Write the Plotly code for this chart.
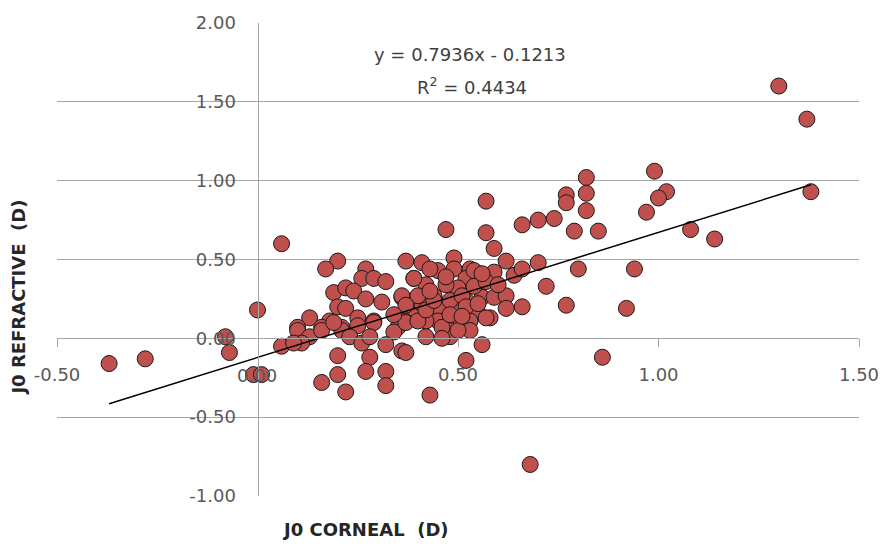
import plotly.graph_objects as go

j0_corneal = [
    1.30, 1.37, 1.38, -0.37, -0.28, -0.08, -0.07, 0.00, -0.01, 0.01,
    0.06, 0.68, 0.86, 0.92, 0.94, 0.77, 0.72, 0.66, 0.56, 0.52,
    0.43, 0.99, 1.02, 1.00, 0.97, 1.08, 1.14, 0.82, 0.82, 0.77,
    0.77, 0.82, 0.79, 0.85, 0.74, 0.70, 0.66, 0.57, 0.57, 0.47,
    0.59, 0.62, 0.70, 0.80, 0.49, 0.59, 0.64, 0.66, 0.53, 0.49,
    0.45, 0.52, 0.50, 0.47, 0.52, 0.56, 0.59, 0.62, 0.62, 0.58,
    0.55, 0.53, 0.49, 0.47, 0.46, 0.49, 0.54, 0.47, 0.57, 0.53,
    0.47, 0.48, 0.20, 0.17, 0.37, 0.41, 0.43, 0.27, 0.26, 0.29,
    0.32, 0.39, 0.42, 0.19, 0.22, 0.24, 0.27, 0.36, 0.40, 0.44,
    0.20, 0.22, 0.25, 0.29, 0.13, 0.18, 0.10, 0.16, 0.21, 0.37,
    0.39, 0.41, 0.45, 0.45, 0.35, 0.42, 0.46, 0.10, 0.13, 0.16,
    0.21, 0.25, 0.29, 0.34, 0.37, 0.42, 0.46, 0.11, 0.23, 0.26,
    0.28, 0.32, 0.20, 0.28, 0.36, 0.37, 0.20, 0.16, 0.27, 0.32,
    0.32, 0.22, 0.06, 0.09, 0.19, 0.36, 0.40, 0.39, 0.40, 0.42,
    0.37, 0.48, 0.51, 0.54, 0.57, 0.48, 0.44, 0.52, 0.55, 0.50,
    0.34, 0.31, 0.43, 0.56, 0.60, 0.51,
]
j0_refractive = [
    1.60, 1.39, 0.93, -0.16, -0.13, 0.01, -0.09, 0.18, -0.23, -0.23,
    0.60, -0.80, -0.12, 0.19, 0.44, 0.21, 0.33, 0.20, -0.04, -0.14,
    -0.36, 1.06, 0.93, 0.89, 0.80, 0.69, 0.63, 1.02, 0.92, 0.91,
    0.86, 0.81, 0.68, 0.68, 0.76, 0.75, 0.72, 0.87, 0.67, 0.69,
    0.57, 0.49, 0.48, 0.44, 0.51, 0.42, 0.40, 0.44, 0.44, 0.44,
    0.43, 0.38, 0.32, 0.34, 0.24, 0.26, 0.26, 0.27, 0.19, 0.13,
    0.16, 0.11, 0.10, 0.08, 0.21, 0.19, 0.43, 0.39, 0.13, 0.05,
    0.06, 0.01, 0.49, 0.44, 0.49, 0.48, 0.44, 0.44, 0.38, 0.38,
    0.36, 0.38, 0.34, 0.29, 0.32, 0.30, 0.25, 0.26, 0.26, 0.27,
    0.20, 0.19, 0.13, 0.11, 0.13, 0.11, 0.07, 0.07, 0.07, 0.11,
    0.19, 0.22, 0.20, 0.11, 0.07, 0.11, 0.07, 0.05, 0.01, 0.05,
    0.05, 0.08, 0.10, 0.04, 0.10, 0.01, 0.00, -0.03, 0.01, -0.03,
    0.01, -0.04, -0.11, -0.12, -0.08, -0.09, -0.23, -0.28, -0.21, -0.21,
    -0.30, -0.34, -0.05, -0.03, 0.10, 0.27, 0.27, 0.38, 0.11, 0.18,
    0.21, 0.24, 0.27, 0.33, 0.36, 0.15, 0.24, 0.20, 0.22, 0.05,
    0.15, 0.23, 0.30, 0.41, 0.34, 0.14,
]

slope = 0.7936
intercept = -0.1213
r_squared = 0.4434

x_ticks = [-0.5, 0.5, 1.0, 1.5]
x_tick_labels = ["-0.50", "0.50", "1.00", "1.50"]
x_origin_label = "0.00"
y_ticks = [-1.0, -0.5, 0.0, 0.5, 1.0, 1.5, 2.0]
y_tick_labels = ["-1.00", "-0.50", "0.00", "0.50", "1.00", "1.50", "2.00"]
x_range = [-0.5, 1.5]
y_range = [-1.0, 2.0]

x_title = "J0 CORNEAL  (D)"
y_title = "J0 REFRACTIVE  (D)"

font_family = "DejaVu Sans"
label_color = "#595959"
grid_color = "#a6a6a6"

W, H = 891, 546
ML, MR, MT, MB = 57, 25, 20, 50
PW, PH = W - ML - MR, H - MT - MB

fig = go.Figure()

fig.add_trace(go.Scatter(
    x=j0_corneal, y=j0_refractive, mode="markers",
    marker=dict(size=16, color="#c0504d", line=dict(color="#1a1a1a", width=1)),
    showlegend=False, hoverinfo="x+y",
))

x_min, x_max = min(j0_corneal), max(j0_corneal)
fig.add_trace(go.Scatter(
    x=[x_min, x_max], y=[slope * x_min + intercept, slope * x_max + intercept],
    mode="lines", line=dict(color="#000000", width=1.5),
    showlegend=False, hoverinfo="skip",
))

y_pos = (0 - y_range[0]) / (y_range[1] - y_range[0])
x_pos = (0 - x_range[0]) / (x_range[1] - x_range[0])

fig.update_layout(
    width=W, height=H,
    margin=dict(l=ML, r=MR, t=MT, b=MB),
    paper_bgcolor="white", plot_bgcolor="white",
    font=dict(family=font_family, size=18, color=label_color),
    xaxis=dict(
        range=x_range, tickvals=x_ticks, ticktext=x_tick_labels,
        showgrid=False, zeroline=False,
        showline=True, linecolor=grid_color, linewidth=1,
        ticks="outside", ticklen=8, tickcolor=grid_color, tickwidth=1,
        ticklabelstandoff=12,
        anchor="free", position=y_pos,
        tickfont=dict(family=font_family, size=18, color=label_color),
    ),
    yaxis=dict(
        range=y_range, tickvals=y_ticks, ticktext=y_tick_labels,
        showgrid=True, gridcolor=grid_color, gridwidth=1, zeroline=False,
        showline=True, linecolor=grid_color, linewidth=1,
        ticks="", ticklabelstandoff=18,
        anchor="free", position=x_pos,
        tickfont=dict(family=font_family, size=18, color=label_color),
    ),
    annotations=[
        dict(text=x_origin_label, x=(259 - ML) / PW, y=(H - MB - 375) / PH,
             xref="paper", yref="paper", showarrow=False,
             xanchor="center", yanchor="middle",
             font=dict(family=font_family, size=18, color=label_color)),
        dict(text=f"y = {slope}x - {abs(intercept)}", x=0.529, y=1.80,
             xref="x", yref="y", showarrow=False,
             font=dict(family=font_family, size=18, color="#404040")),
        dict(text=f"R<sup>2</sup> = {r_squared}", x=0.535, y=1.60,
             xref="x", yref="y", showarrow=False,
             font=dict(family=font_family, size=18, color="#404040")),
        dict(text=f"<b>{x_title}</b>", x=(368 - ML) / PW, y=(H - MB - 530) / PH,
             xref="paper", yref="paper", showarrow=False,
             xanchor="center", yanchor="middle",
             font=dict(family=font_family, size=18, color="#262626")),
        dict(text=f"<b>{y_title}</b>", x=(18 - ML) / PW, y=(H - MB - 296) / PH,
             xref="paper", yref="paper", showarrow=False, textangle=-90,
             xanchor="center", yanchor="middle",
             font=dict(family=font_family, size=18, color="#262626")),
    ],
)

fig.write_html("out.html")
